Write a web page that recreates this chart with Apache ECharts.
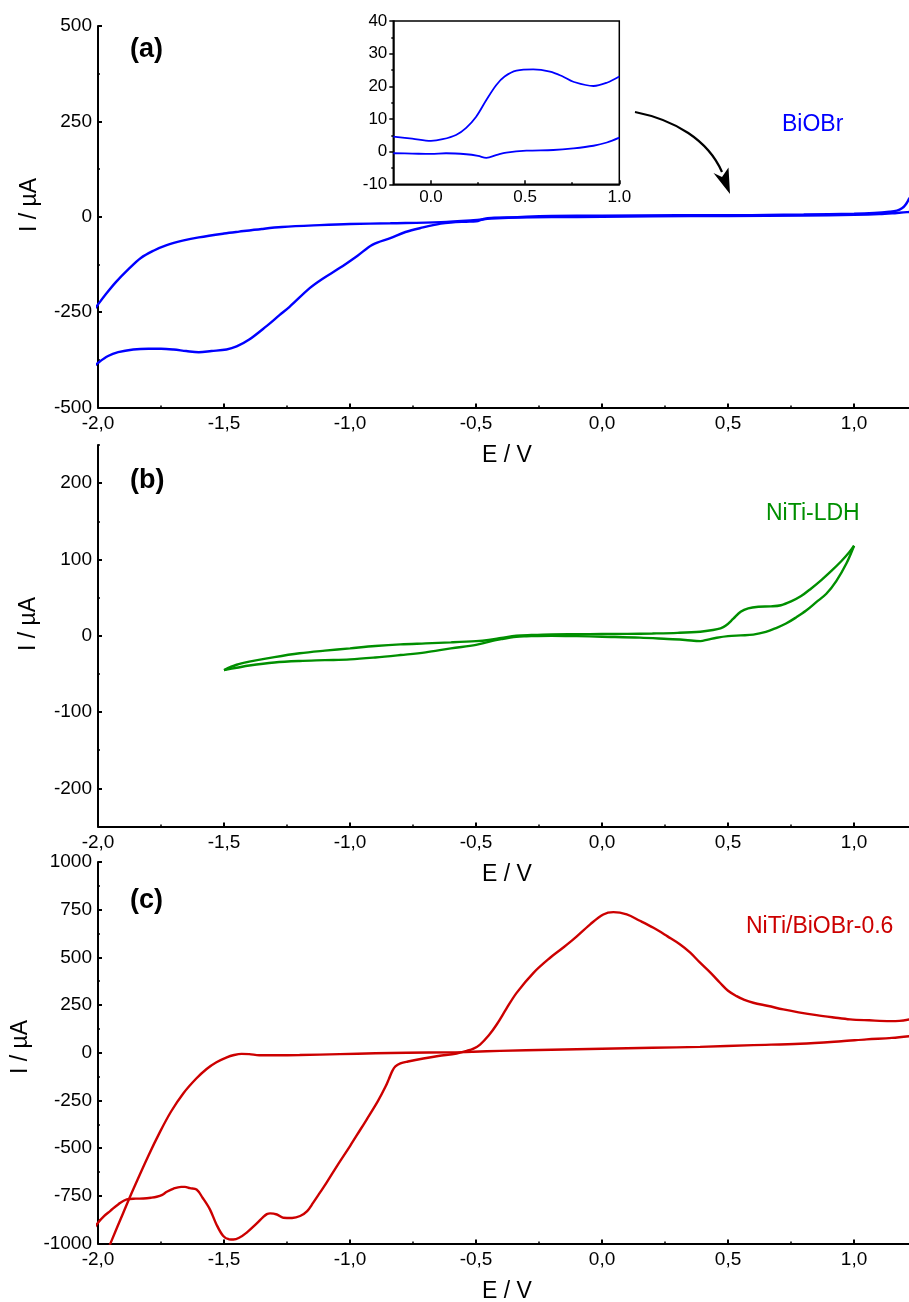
<!DOCTYPE html>
<html><head><meta charset="utf-8">
<script src="https://cdn.jsdelivr.net/npm/echarts@6/dist/echarts.min.js"></script>
<style>html,body{margin:0;padding:0;background:#fff}#chart{width:909px;height:1302px}</style>
</head><body><div id="chart"></div>
<script>
// ---------- tick values ----------
const xTicks = [-2, -1.5, -1, -0.5, 0, 0.5, 1];
const xMinor = [-1.75, -1.25, -0.75, -0.25, 0.25, 0.75];
const aTicks = [-500, -250, 0, 250, 500];
const aMinor = [-375, -125, 125, 375];
const bTicks = [-200, -100, 0, 100, 200];
const bMinor = [-250, -150, -50, 50, 150, 250];
const cTicks = [-1000, -750, -500, -250, 0, 250, 500, 750, 1000];
const cMinor = [-875, -625, -375, -125, 125, 375, 625, 875];
const insetXTicks = [0, 0.5, 1];
const insetXMinor = [0.25, 0.75];
const insetYTicks = [-10, 0, 10, 20, 30, 40];
const insetYMinor = [-5, 5, 15, 25, 35];

// ---------- (a) BiOBr ----------
const bioBrCathE = [1.23, 1.21, 1.17, 1.1, 1.0, 0.8, 0.5, 0.2, 0.0, -0.2, -0.35, -0.44, -0.47, -0.50, -0.54, -0.6, -0.64, -0.71, -0.78, -0.84, -0.91, -0.97, -1.04, -1.11, -1.16, -1.24, -1.28, -1.33, -1.40, -1.45, -1.49, -1.55, -1.60, -1.65, -1.70, -1.75, -1.80, -1.86, -1.92, -1.96, -2.0, -2.02];
const bioBrCathI = [14, 12, 10, 7, 5, 3, 2, 1, 0, -1, -2, -3, -6, -12, -13, -15, -18, -28, -40, -56, -73, -102, -134, -163, -187, -236, -258, -286, -322, -340, -348, -352, -355, -352, -348, -346, -346, -348, -355, -365, -383, -395];
const bioBrAnE = [-2.02, -2.0, -1.97, -1.93, -1.88, -1.83, -1.78, -1.73, -1.66, -1.6, -1.5, -1.44, -1.35, -1.27, -1.12, -1.0, -0.84, -0.64, -0.51, -0.44, -0.3, -0.2, 0.0, 0.3, 0.5, 0.8, 1.0, 1.08, 1.14, 1.17, 1.19, 1.205, 1.22];
const bioBrAnI = [-248, -230, -204, -172, -138, -108, -89, -75, -62, -54, -44, -39, -32, -27, -22, -19, -17, -14, -9, -5, 0, 2, 3, 4, 4, 6, 8, 10, 13, 16, 22, 32, 50];

// inset of (a)
const insetUpE = [-0.2, -0.1, 0.0, 0.062, 0.133, 0.187, 0.24, 0.294, 0.347, 0.391, 0.454, 0.543, 0.632, 0.7, 0.756, 0.863, 0.934, 1.0];
const insetUpI = [4.6, 4.0, 3.3, 3.8, 5.1, 7.3, 10.7, 15.8, 20.4, 23.0, 24.8, 25.2, 24.5, 23.0, 21.4, 20.1, 21.1, 23.0];
const insetLowE = [-0.2, -0.1, 0.0, 0.08, 0.187, 0.25, 0.294, 0.35, 0.4, 0.507, 0.65, 0.756, 0.863, 0.934, 1.0];
const insetLowI = [-0.5, -0.6, -0.7, -0.5, -0.8, -1.3, -1.9, -1.0, -0.3, 0.3, 0.5, 1.0, 1.8, 2.8, 4.3];

// ---------- (b) NiTi-LDH ----------
const ldhAnE = [-1.5, -1.45, -1.4, -1.3, -1.2, -1.1, -1.0, -0.9, -0.8, -0.7, -0.6, -0.5, -0.45, -0.4, -0.34, -0.28, -0.2, -0.1, 0.0, 0.1, 0.2, 0.3, 0.39, 0.44, 0.47, 0.49, 0.52, 0.55, 0.58, 0.62, 0.67, 0.71, 0.75, 0.79, 0.83, 0.87, 0.91, 0.95, 0.98, 1.0];
const ldhAnI = [-45, -38, -34, -28, -23, -19.5, -16.5, -13.5, -11.3, -10, -8.7, -7, -5.5, -3, 0, 1, 1.8, 2, 2.2, 2.5, 3, 3.8, 5.3, 7.5, 9.7, 13, 22, 31.5, 36, 38, 38.5, 40, 45, 52, 62, 73, 85, 98, 109, 118];
const ldhCathE = [1.0, 0.97, 0.93, 0.89, 0.85, 0.81, 0.77, 0.73, 0.69, 0.65, 0.6, 0.55, 0.5, 0.455, 0.42, 0.39, 0.33, 0.26, 0.15, 0.0, -0.1, -0.2, -0.3, -0.34, -0.4, -0.45, -0.5, -0.6, -0.7, -0.8, -0.9, -1.0, -1.1, -1.2, -1.3, -1.4, -1.45, -1.5];
const ldhCathI = [118, 95, 72, 55, 44, 33, 24, 16, 10, 5, 1.5, 0.5, -0.5, -2.6, -5, -7, -5.5, -4.3, -2.5, -1.3, -0.5, 0, -0.7, -1.3, -4.5, -8, -12, -16.5, -21.8, -25.3, -28.5, -31, -32, -33, -35, -39, -42, -45];

// ---------- (c) NiTi/BiOBr-0.6 ----------
const compAnE = [-2.02, -2.0, -1.975, -1.952, -1.92, -1.886, -1.85, -1.82, -1.79, -1.767, -1.745, -1.727, -1.70, -1.67, -1.655, -1.635, -1.609, -1.585, -1.556, -1.53, -1.503, -1.48, -1.463, -1.44, -1.41, -1.37, -1.345, -1.33, -1.317, -1.29, -1.265, -1.23, -1.198, -1.17, -1.146, -1.12, -1.093, -1.05, -1.0, -0.96, -0.934, -0.89, -0.86, -0.845, -0.832, -0.82, -0.80, -0.77, -0.709, -0.65, -0.577, -0.537, -0.51, -0.484, -0.45, -0.418, -0.38, -0.339, -0.272, -0.206, -0.16, -0.114, -0.048, 0.005, 0.045, 0.098, 0.15, 0.204, 0.26, 0.31, 0.35, 0.389, 0.43, 0.468, 0.5, 0.534, 0.565, 0.6, 0.66, 0.719, 0.78, 0.851, 0.92, 0.984, 1.06, 1.143, 1.18, 1.22];
const compAnI = [-930, -891, -855, -830, -795, -769, -765, -764, -760, -755, -745, -729, -712, -703, -703, -710, -717, -760, -821, -900, -961, -978, -979, -970, -943, -895, -862, -846, -842, -848, -865, -866, -856, -830, -786, -735, -681, -590, -489, -405, -350, -255, -180, -135, -95, -72, -56, -46, -30, -17, -4, 10, 22, 43, 90, 148, 230, 314, 419, 498, 545, 594, 672, 725, 737, 725, 692, 655, 610, 568, 525, 472, 420, 367, 325, 297, 277, 262, 245, 227, 212, 197, 185, 175, 170, 166, 167, 175];
const compCathE = [1.22, 1.15, 1.05, 0.95, 0.786, 0.6, 0.389, 0.2, 0.0, -0.2, -0.405, -0.511, -0.6, -0.775, -0.9, -1.04, -1.2, -1.304, -1.36, -1.40, -1.43, -1.46, -1.489, -1.53, -1.569, -1.61, -1.661, -1.71, -1.754, -1.8, -1.86, -1.9, -1.946, -1.97];
const compCathI = [87, 78, 70, 60, 47, 40, 31, 26, 21, 16, 10, 5, 2, 0, -3, -7, -12, -13, -13, -7, -6, -12, -24, -50, -85, -135, -212, -308, -415, -540, -716, -840, -985, -1065];

// ---------- helpers ----------
const FONT = "'Liberation Sans', Arial, Helvetica, sans-serif";
const pairs = (xs, ys) => xs.map((x, i) => [x, ys[i]]);
const comma = v => v.toFixed(1).replace('.', ',');
const plain = v => String(v);
const X_MIN = -2, X_MAX = 1.216;

function xMajor(g, min, max, ticks, fmt, fs, tickLen, lw, margin) {
  return {
    type: 'value', gridIndex: g, position: 'bottom', min, max,
    axisLine: { show: true, onZero: false, lineStyle: { color: '#000', width: lw } },
    axisTick: { show: true, inside: true, length: tickLen, customValues: ticks, lineStyle: { color: '#000', width: lw } },
    axisLabel: { customValues: ticks, formatter: fmt, color: '#000', fontSize: fs, fontFamily: FONT, margin },
    splitLine: { show: false }
  };
}
function xMinorAx(g, min, max, ticks, len) {
  return {
    type: 'value', gridIndex: g, position: 'bottom', min, max,
    axisLine: { show: false, onZero: false },
    axisTick: { show: true, inside: true, length: len, customValues: ticks, lineStyle: { color: '#000', width: 1.5 } },
    axisLabel: { show: false }, splitLine: { show: false }
  };
}
function yMajor(g, min, max, ticks, fs, inside, tickLen, lw, margin) {
  return {
    type: 'value', gridIndex: g, position: 'left', min, max,
    axisLine: { show: true, onZero: false, lineStyle: { color: '#000', width: lw } },
    axisTick: { show: true, inside, length: tickLen, customValues: ticks, lineStyle: { color: '#000', width: lw } },
    axisLabel: { customValues: ticks, formatter: plain, color: '#000', fontSize: fs, fontFamily: FONT, margin },
    splitLine: { show: false }
  };
}
function yMinorAx(g, min, max, ticks, inside, len) {
  return {
    type: 'value', gridIndex: g, position: 'left', min, max,
    axisLine: { show: false, onZero: false },
    axisTick: { show: true, inside, length: len, customValues: ticks, lineStyle: { color: '#000', width: 1.5 } },
    axisLabel: { show: false }, splitLine: { show: false }
  };
}
function line(name, xi, yi, data, color, width) {
  return {
    name, type: 'line', xAxisIndex: xi, yAxisIndex: yi, data,
    showSymbol: false, smooth: 0.35, clip: true, silent: true,
    lineStyle: { color, width }, z: 3
  };
}
function txt(x, y, text, opts) {
  const o = Object.assign({ size: 23, weight: 'normal', color: '#000', align: 'left', rot: 0 }, opts || {});
  return {
    type: 'text', x, y, rotation: o.rot, silent: true, z: 10,
    style: {
      text, fill: o.color, fontSize: o.size, fontWeight: o.weight, fontFamily: FONT,
      align: o.align, verticalAlign: 'middle', textAlign: o.align, textVerticalAlign: 'middle'
    }
  };
}

const BLUE = '#0000ff', GREEN = '#008f00', RED = '#cc0000';

const option = {
  animation: false,
  backgroundColor: '#fff',
  grid: [
    { left: 98, top: 26, width: 810.5, height: 381.5 },
    { left: 98, top: 445, width: 810.5, height: 381.5 },
    { left: 98, top: 862, width: 810.5, height: 381.5 },
    { left: 393.3, top: 21, width: 226, height: 163.3, show: true, borderColor: '#000', borderWidth: 1.5 }
  ],
  xAxis: [
    xMajor(0, X_MIN, X_MAX, xTicks, comma, 19, 4, 2, 7), xMinorAx(0, X_MIN, X_MAX, xMinor, 2),
    xMajor(1, X_MIN, X_MAX, xTicks, comma, 19, 4, 2, 7), xMinorAx(1, X_MIN, X_MAX, xMinor, 2),
    xMajor(2, X_MIN, X_MAX, xTicks, comma, 19, 4, 2, 7), xMinorAx(2, X_MIN, X_MAX, xMinor, 2),
    xMajor(3, -0.2, 1.0, insetXTicks, v => v.toFixed(1), 17, 4, 1.5, 5), xMinorAx(3, -0.2, 1.0, insetXMinor, 2)
  ],
  yAxis: [
    yMajor(0, -500, 500, aTicks, 19, true, 4, 2, 6), yMinorAx(0, -500, 500, aMinor, true, 2),
    yMajor(1, -250, 250, bTicks, 19, true, 4, 2, 6), yMinorAx(1, -250, 250, bMinor, true, 2),
    yMajor(2, -1000, 1000, cTicks, 19, true, 4, 2, 6), yMinorAx(2, -1000, 1000, cMinor, true, 2),
    yMajor(3, -10, 40, insetYTicks, 17, false, 4, 1.5, 6), yMinorAx(3, -10, 40, insetYMinor, false, 2)
  ],
  series: [
    line('BiOBr', 0, 0, pairs(bioBrCathE, bioBrCathI), BLUE, 2.4),
    line('BiOBr', 0, 0, pairs(bioBrAnE, bioBrAnI), BLUE, 2.4),
    line('BiOBr inset', 6, 6, pairs(insetUpE, insetUpI), BLUE, 1.8),
    line('BiOBr inset', 6, 6, pairs(insetLowE, insetLowI), BLUE, 1.8),
    line('NiTi-LDH', 2, 2, pairs(ldhAnE, ldhAnI), GREEN, 2.4),
    line('NiTi-LDH', 2, 2, pairs(ldhCathE, ldhCathI), GREEN, 2.4),
    line('NiTi/BiOBr-0.6', 4, 4, pairs(compAnE, compAnI), RED, 2.4),
    line('NiTi/BiOBr-0.6', 4, 4, pairs(compCathE, compCathI), RED, 2.4)
  ],
  graphic: [
    txt(130, 50, '(a)', { size: 27, weight: 'bold' }),
    txt(130, 481, '(b)', { size: 27, weight: 'bold' }),
    txt(130, 901, '(c)', { size: 27, weight: 'bold' }),
    txt(782, 125, 'BiOBr', { color: BLUE }),
    txt(766, 514, 'NiTi-LDH', { color: GREEN }),
    txt(746, 927, 'NiTi/BiOBr-0.6', { color: RED }),
    txt(507, 456, 'E / V', { align: 'center' }),
    txt(507, 875, 'E / V', { align: 'center' }),
    txt(507, 1292, 'E / V', { align: 'center' }),
    txt(30, 205, 'I / µA', { align: 'center', rot: Math.PI / 2 }),
    txt(29, 624, 'I / µA', { align: 'center', rot: Math.PI / 2 }),
    txt(21, 1047, 'I / µA', { align: 'center', rot: Math.PI / 2 }),
    {
      type: 'bezierCurve', silent: true, z: 10,
      shape: { x1: 635, y1: 112, cpx1: 675, cpy1: 120, cpx2: 708, cpy2: 140, x2: 722, y2: 172 },
      style: { stroke: '#000', lineWidth: 2.2, fill: null }
    },
    {
      type: 'polygon', silent: true, z: 10,
      shape: { points: [[730, 194], [713.5, 173], [722, 177], [728.5, 167.5]] },
      style: { fill: '#000' }
    }
  ]
};

const chart = echarts.init(document.getElementById('chart'), null, { renderer: 'canvas' });
chart.setOption(option);
</script></body></html>
